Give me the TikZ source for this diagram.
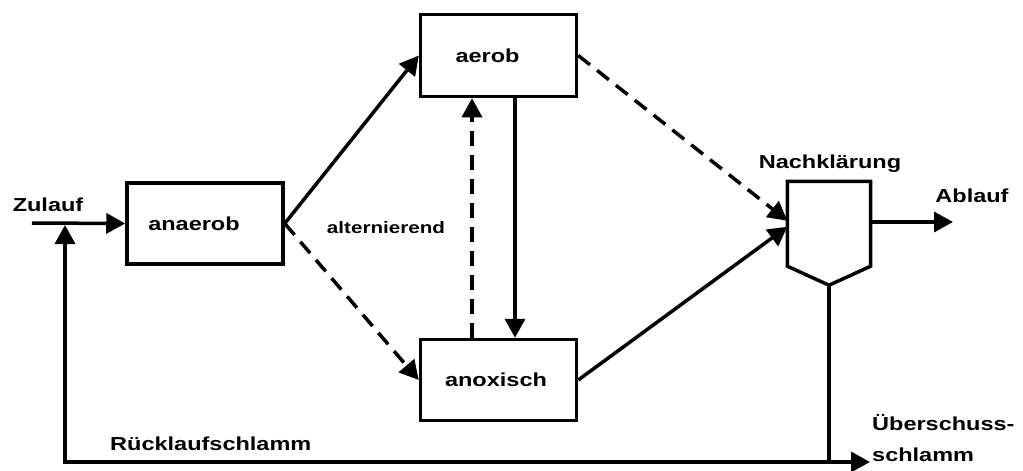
\documentclass[tikz,border=0pt]{standalone}
\usepackage{fontspec}
\setmainfont{Liberation Sans}[FakeStretch=1.25]
\usetikzlibrary{arrows.meta,calc}
\begin{document}
\begin{tikzpicture}[x=1pt,y=-1pt,
  every node/.style={font=\bfseries\fontsize{18.8}{22}\selectfont, inner sep=0pt},
  proc/.style={draw, line width=3.5pt, rectangle, minimum width=156pt, minimum height=81pt},
  conn/.style={line width=3.5pt},
  arr/.style={conn, -{Triangle[length=19pt,width=20pt]}},
  dsh/.style={dash pattern=on 15pt off 9pt}
]
\useasboundingbox (0,0) rectangle (1023,471);

% process boxes
\node[proc] (anaerob) at (205,223.5) {anaerob\hspace*{22pt}};
\node[proc, minimum height=82pt] (aerob) at (498.5,55.5) {aerob\hspace*{22pt}};
\node[proc] (anoxisch) at (498.5,380) {anoxisch\hspace*{5pt}};

% clarifier
\node[minimum width=83pt, minimum height=84.5pt] (nk) at (829,223.75) {};
\coordinate (nkb) at ($(nk.south)+(0,19)$);
\draw[conn, line join=miter] (nk.south west) -- (nk.north west) -- (nk.north east) -- (nk.south east) -- (nkb) -- cycle;

% labels
\node[anchor=base] (zulauf) at (48,211) {Zulauf};
\node[anchor=base, font=\bfseries\fontsize{16.5}{20}\selectfont] (alt) at (386,233) {alternierend};
\node[anchor=base] (nklab) at (830,168) {Nachklärung};
\node[anchor=base] (ablauf) at (972,202) {Ablauf};
\node[anchor=base west] (rls) at (110,450) {Rücklaufschlamm};
\node[anchor=base west] (ues1) at (872,430) {Überschuss-};
\node[anchor=base west] (ues2) at (872,461) {schlamm};

% coordinates for free ends
\coordinate (zin) at (32,223);
\coordinate (rl) at (65,462);
\coordinate (rt) at (65,225);
\coordinate (ue) at (870,462);
\coordinate (ab) at (953,222);

% connectors
\draw[arr] (zin) -- (anaerob.west);
\draw[conn, line join=miter, {Triangle[length=19pt,width=20pt]}-{Triangle[length=19pt,width=20pt]}] (rt) -- (rl) -- (ue);
\draw[conn] (nkb) -- (nkb |- rl);
\draw[arr] (nk.east |- ab) -- (ab);

\draw[arr] (anaerob.east) -- (aerob.west);
\draw[arr, dsh] (anaerob.east) -- (anoxisch.west);

\draw[arr, dsh] ($(anoxisch.north)+(-26.5,0)$) -- ($(aerob.south)+(-26.5,0)$);
\draw[arr] ($(aerob.south)+(16.5,0)$) -- ($(anoxisch.north)+(16.5,0)$);

\draw[arr, dsh] (aerob.east) -- ($(nk.west)+(0,-3)$);
\draw[arr] (anoxisch.east) -- ($(nk.west)+(0,3)$);
\end{tikzpicture}
\end{document}
